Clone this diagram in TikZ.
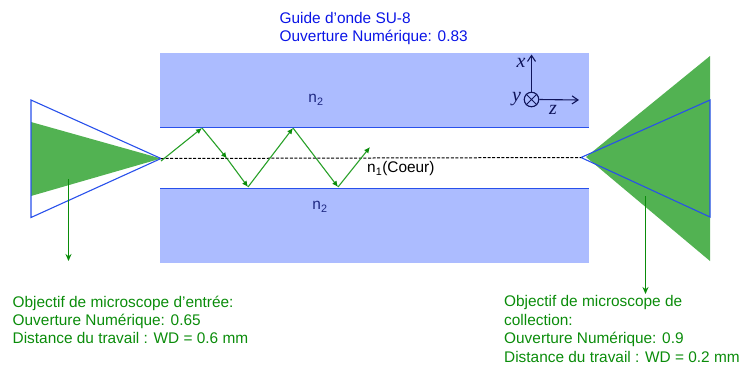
\documentclass[tikz,border=0pt]{standalone}
\usepackage{fontspec}
\setmainfont{Liberation Sans}
\newfontfamily\axisfont{Liberation Serif}
\usetikzlibrary{arrows.meta}
\definecolor{guide}{RGB}{172,188,255}
\definecolor{edgeblue}{RGB}{40,80,235}
\definecolor{beam}{RGB}{82,178,82}
\definecolor{ray}{RGB}{40,160,40}
\definecolor{callout}{RGB}{10,140,10}
\definecolor{navytext}{RGB}{30,40,130}
\definecolor{axisnavy}{RGB}{15,20,90}
\definecolor{titleblue}{RGB}{10,20,230}
\tikzset{
  x=1pt,y=-1pt,
  guidebox/.style={fill=guide,draw=none},
  rim/.style={draw=edgeblue,line width=1.2pt},
  cone/.style={draw=edgeblue,line width=1.1pt,line join=miter},
  beamfill/.style={fill=beam,draw=none},
  rayseg/.style={draw=ray,line width=1.1pt,-{Latex[length=6pt,width=5.5pt,color=callout]}},
  calloutline/.style={draw=callout,line width=1.6pt,-{Stealth[length=7pt,width=6pt]}},
  axisline/.style={draw=axisnavy,line width=1.1pt,-{Straight Barb[length=6pt,width=8pt]}},
  lab/.style={font=\fontsize{15.4}{18.4}\selectfont,inner sep=0pt,align=left},
  greenlab/.style={lab,text=callout,anchor=north west},
  axlab/.style={font=\axisfont\itshape\fontsize{20}{20}\selectfont,text=axisnavy,inner sep=0pt},
}
\begin{document}
\begin{tikzpicture}
\useasboundingbox (0,0) rectangle (742,365);
% waveguide
\fill[guidebox] (160,53) rectangle (589,127.5);
\fill[guidebox] (160,188) rectangle (589,263);
\coordinate (tl) at (160,127.5); \coordinate (tr) at (589,127.5);
\coordinate (bl) at (160,188.5); \coordinate (br) at (589,188.5);
\draw[rim] (tl) -- (tr);
\draw[rim] (bl) -- (br);
% left objective
\coordinate (la) at (161,158.5);
\fill[beamfill] (31,122) -- (la) -- (31,196) -- cycle;
\draw[cone] (31,100) -- (la) -- (31,217.5) -- cycle;
% right objective
\coordinate (ra) at (581,157.5);
\fill[beamfill] (586,157) -- (710,56) -- (710,261) -- cycle;
\draw[cone] (ra) -- (710,100) -- (710,217) -- cycle;
% axis line
\draw[black,line width=1pt,dash pattern=on 3pt off 1.6pt] (la) -- (ra);
% rays
\coordinate (r0) at (161,161);
\coordinate (r1) at (202,128);
\coordinate (rm) at (227,158.5);
\coordinate (r2) at (248,187);
\coordinate (r3) at (293,128);
\coordinate (r4) at (338,187);
\coordinate (r5) at (370,147);
\draw[rayseg] (r0) -- (r1);
\draw[rayseg] (r1) -- (rm);
\draw[rayseg] (rm) -- (r2);
\draw[rayseg] (r2) -- (r3);
\draw[rayseg] (r3) -- (r4);
\draw[rayseg] (r4) -- (r5);
% callouts
\coordinate (c1a) at (68.5,179); \coordinate (c1b) at (68.5,261);
\coordinate (c2a) at (645.5,196); \coordinate (c2b) at (645.5,294);
\draw[calloutline] (c1a) -- (c1b);
\draw[calloutline] (c2a) -- (c2b);
% axes
\node[circle,draw=axisnavy,line width=1.1pt,minimum size=14.5pt,inner sep=0pt] (o) at (531.5,99.5) {};
\draw[draw=axisnavy,line width=0.9pt] (o.north west) -- (o.south east) (o.north east) -- (o.south west);
\coordinate (xe) at (531.5,54.5); \coordinate (ze) at (579,100);
\draw[axisline] (o.north) -- (xe);
\draw[axisline] (o.east) -- (ze);
\node[axlab] (xl) at (521,63) {x};
\node[axlab] (yl) at (516.5,99.5) {y};
\node[axlab] (zl) at (553,110) {z};
% labels
\node[lab,text=navytext] (n2a) at (316,100) {n\textsubscript{2}};
\node[lab,text=navytext] (n2b) at (320,207) {n\textsubscript{2}};
\node[lab,text=black,anchor=west] (n1) at (367,169) {n\textsubscript{1}(Coeur)};
\node[lab,text=titleblue,anchor=north west] (title) at (279.5,12) {Guide d’onde SU-8\\Ouverture Numérique: 0.83};
\node[greenlab] (t1) at (12.5,295.5) {Objectif de microscope d’entrée:\\Ouverture Numérique: 0.65\\Distance du travail : WD = 0.6 mm};
\node[greenlab] (t2) at (504,295.5) {Objectif de microscope de\\collection:\\Ouverture Numérique: 0.9\\Distance du travail : WD = 0.2 mm};
\end{tikzpicture}
\end{document}
